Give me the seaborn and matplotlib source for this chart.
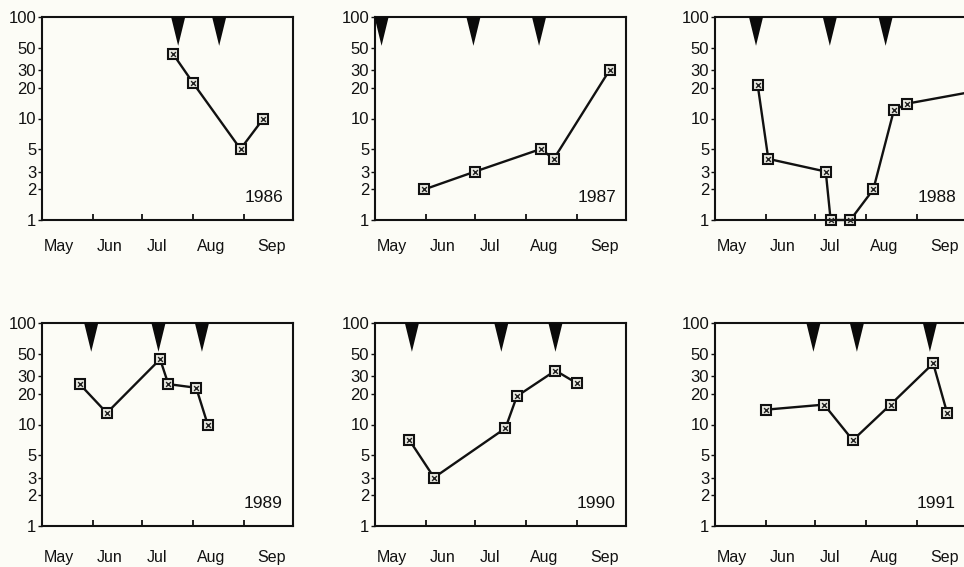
import numpy as np
import pandas as pd
import matplotlib
matplotlib.use("Agg")
import matplotlib.pyplot as plt
import seaborn as sns
from matplotlib.ticker import FixedLocator, NullLocator, NullFormatter

# ---------------- data (x = days counted from 1 May) ----------------
years = [1986, 1987, 1988, 1989, 1990, 1991]

days_1986 = [80, 92, 121, 135]
vals_1986 = [43, 22.5, 5, 10]
events_1986 = [83, 108]

days_1987 = [30, 61, 101, 109, 143]
vals_1987 = [2, 3, 5, 4, 30]
events_1987 = [4, 60, 100]

days_1988 = [26, 32.5, 67.5, 70.5, 82.5, 96.5, 109, 117, 158]
vals_1988 = [21.5, 4, 3, 1, 1, 2, 12, 14, 18.5]
events_1988 = [25, 70, 104]

days_1989 = [23, 39.5, 72, 77, 94, 101]
vals_1989 = [25, 13, 44, 25, 23, 10]
events_1989 = [30, 71, 97.5]

days_1990 = [21, 36, 79.5, 86.5, 110, 123]
vals_1990 = [7, 3, 9.2, 19, 34, 25.5]
events_1990 = [22.5, 77, 110]

days_1991 = [31, 66.5, 84, 107, 133, 141.5]
vals_1991 = [14, 15.7, 7, 15.7, 40, 13]
events_1991 = [60, 86.5, 131]

month_labels = ["May", "Jun", "Jul", "Aug", "Sep"]
month_label_days = [10, 41, 70, 103, 140]
month_bounds = [31, 61, 92, 123]
y_ticks = [1, 2, 3, 5, 10, 20, 30, 50, 100]

series = {
    1986: (days_1986, vals_1986, events_1986),
    1987: (days_1987, vals_1987, events_1987),
    1988: (days_1988, vals_1988, events_1988),
    1989: (days_1989, vals_1989, events_1989),
    1990: (days_1990, vals_1990, events_1990),
    1991: (days_1991, vals_1991, events_1991),
}

# ---------------- style ----------------
sns.set_style("ticks")
bg = "#fcfcf6"
plt.rcParams["font.family"] = ["Liberation Sans", "DejaVu Sans"]
plt.rcParams["axes.linewidth"] = 1.5
plt.rcParams["text.color"] = "#111111"

W, H = 964, 567
fig = plt.figure(figsize=(W / 100, H / 100), dpi=100, facecolor=bg)

col_left = [42, 375, 715]
row_top = [17, 323]
ax_w, ax_h = 251, 203
label_pad = [14, 17]

for i, yr in enumerate(years):
    r, c = divmod(i, 3)
    left = col_left[c] / W
    bottom = 1 - (row_top[r] + ax_h) / H
    ax = fig.add_axes([left, bottom, ax_w / W, ax_h / H])
    ax.set_facecolor(bg)

    d, v, ev = series[yr]
    df = pd.DataFrame({"day": d, "value": v})
    sns.lineplot(data=df, x="day", y="value", ax=ax, color="#111111",
                 linewidth=1.7, marker="s", markersize=7,
                 markerfacecolor="#e8e8e0", markeredgecolor="#111111",
                 markeredgewidth=1.5, estimator=None, sort=False)
    sns.scatterplot(data=df, x="day", y="value", ax=ax, marker="x",
                    s=12, color="#222222", linewidth=1.0, zorder=5)
    for art in ax.lines + ax.collections:
        art.set_clip_on(False)

    # event triangles hanging from the top frame
    for e in ev:
        ax.fill([e - 4.3, e + 4.3, e], [100, 100, 52], color="#0a0a0a",
                lw=0, zorder=4)

    ax.set_yscale("log")
    ax.set_ylim(1, 100)
    ax.set_xlim(0, 153)
    ax.yaxis.set_major_locator(FixedLocator(y_ticks))
    ax.set_yticklabels([str(t) for t in y_ticks])
    ax.yaxis.set_minor_locator(NullLocator())
    ax.tick_params(axis="y", which="major", length=3, width=1.0,
                   pad=1.2, labelsize=12, colors="#111111")

    ax.xaxis.set_major_locator(FixedLocator(month_bounds))
    ax.xaxis.set_major_formatter(NullFormatter())
    ax.xaxis.set_minor_locator(FixedLocator(month_label_days))
    ax.set_xticklabels(month_labels, minor=True)
    ax.tick_params(axis="x", which="major", direction="in", length=4,
                   width=1.3, colors="#111111")
    ax.tick_params(axis="x", which="minor", length=0,
                   pad=label_pad[r], labelsize=11.5, colors="#111111")
    ax.set_xlabel("")
    ax.set_ylabel("")
    for s in ax.spines.values():
        s.set_visible(True)
        s.set_color("#111111")

    ax.text(0.96, 0.11, str(yr), transform=ax.transAxes, ha="right",
            va="center", fontsize=12.5)

fig.savefig("out.png", dpi=100, facecolor=bg)
